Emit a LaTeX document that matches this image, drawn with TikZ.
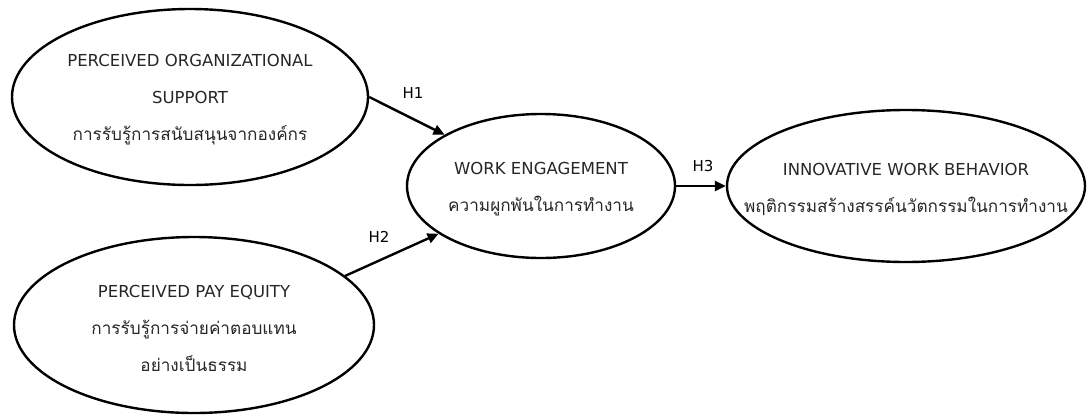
\documentclass[tikz,border=0pt]{standalone}
\usepackage{fontspec}
\setmainfont{DejaVu Sans}
\newfontfamily\thaifont[Script=Thai,Scale=1.04]{Loma}
\usetikzlibrary{shapes.geometric,arrows.meta}

\begin{document}
\begin{tikzpicture}[x=1pt,y=-1pt,
    construct/.style={draw,ellipse,line width=2.4pt,inner sep=0pt},
    textblock/.style={align=center,inner sep=0pt,text=black!85,yshift=-3pt,
        font=\fontsize{16.5}{37}\selectfont},
    path/.style={-{Triangle[length=11pt,width=10pt]},line width=2.4pt},
    hyp/.style={font=\fontsize{15}{17}\selectfont}]
    \useasboundingbox (0,0) rectangle (1091,416);

    % constructs
    \node[construct,minimum width=356pt,minimum height=176pt,
        label={[textblock]center:{PERCEIVED ORGANIZATIONAL\\SUPPORT\\
        \thaifont การรับรู้การสนับสนุนจากองค์กร}}] (pos) at (190,97) {};
    \node[construct,minimum width=360pt,minimum height=176pt,
        label={[textblock]center:{PERCEIVED PAY EQUITY\\
        \thaifont การรับรู้การจ่ายค่าตอบแทน\\\thaifont อย่างเป็นธรรม}}] (ppe) at (194,325) {};
    \node[construct,minimum width=268pt,minimum height=144pt,
        label={[textblock]center:{WORK ENGAGEMENT\\
        \thaifont ความผูกพันในการทำงาน}}] (we) at (541,186) {};
    \node[construct,minimum width=358pt,minimum height=152pt,
        label={[textblock]center:{INNOVATIVE WORK BEHAVIOR\\
        \thaifont พฤติกรรมสร้างสรรค์นวัตกรรมในการทำงาน}}] (iwb) at (906,186) {};

    % hypotheses
    \draw[path] (pos.east) -- (we.152);
    \draw[path] (ppe.18) -- (we.205);
    \draw[path] (we.east) -- (iwb.west);
    \node[hyp] (h1) at (413,93) {H1};
    \node[hyp] (h2) at (379,237) {H2};
    \node[hyp] (h3) at (703,166) {H3};
\end{tikzpicture}
\end{document}
